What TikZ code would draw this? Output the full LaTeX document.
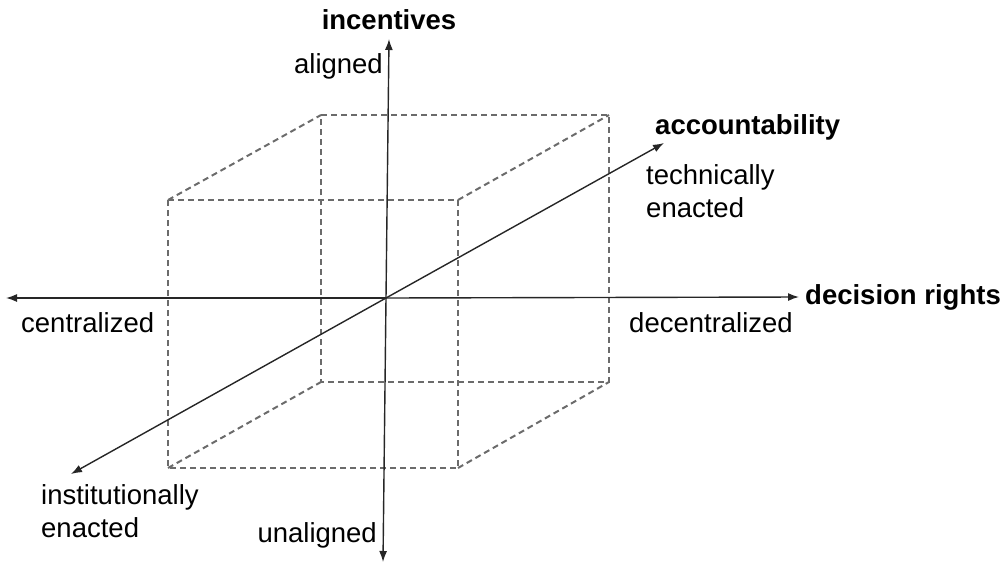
\documentclass[tikz,border=0pt]{standalone}
\usepackage{fontspec}
\setmainfont{Liberation Sans}
\usetikzlibrary{arrows.meta}
\begin{document}
\begin{tikzpicture}[x=1pt,y=-1pt,
  lbl/.style={inner sep=0pt,font=\fontsize{27.5}{33}\selectfont},
  axlbl/.style={lbl,font=\fontsize{27.5}{33}\selectfont\bfseries},
  cubeedge/.style={draw=black!58,line width=2pt,dash pattern=on 6pt off 4pt},
  axis/.style={draw=black!85,line width=1.4pt,-{Latex[length=11pt,width=8pt]}}]
\useasboundingbox (0,0) rectangle (1008,565);
% cube corners
\coordinate (f1) at (168,200);
\coordinate (f2) at (458,200);
\coordinate (f3) at (458,468);
\coordinate (f4) at (168,468);
\coordinate (b1) at (321,115);
\coordinate (b2) at (609,115);
\coordinate (b3) at (609,382);
\coordinate (b4) at (321,382);
\draw[cubeedge] (f1) -- (f2) -- (f3) -- (f4) -- cycle;
\draw[cubeedge] (b1) -- (b2) -- (b3) -- (b4) -- cycle;
\draw[cubeedge] (f1) -- (b1);
\draw[cubeedge] (f2) -- (b2);
\draw[cubeedge] (f3) -- (b3);
\draw[cubeedge] (f4) -- (b4);
% axes
\coordinate (o) at (386,298);
\coordinate (xr) at (799,297);
\coordinate (xl) at (6,298);
\coordinate (yt) at (389,39);
\coordinate (yb) at (383,562);
\coordinate (zt) at (664,143);
\coordinate (zb) at (71,474);
\draw[axis] (o) -- (xr);
\draw[axis] (o) -- (xl);
\draw[axis] (o) -- (yt);
\draw[axis] (o) -- (yb);
\draw[axis] (o) -- (zt);
\draw[axis] (o) -- (zb);
% labels
\node[axlbl] (incentives) at (389,20) {incentives};
\node[lbl,anchor=east] (aligned) at (383,66) {aligned};
\node[lbl,anchor=east] (unaligned) at (377,535) {unaligned};
\node[axlbl,anchor=west] (accountability) at (655,127) {accountability};
\node[lbl,anchor=west,align=left] (technically) at (646,191) {technically\\enacted};
\node[axlbl,anchor=west] (decision) at (805,297) {decision rights};
\node[lbl,anchor=west] (decentralized) at (629,323) {decentralized};
\node[lbl,anchor=west] (centralized) at (21,323) {centralized};
\node[lbl,anchor=west,align=left] (institutionally) at (41,511) {institutionally\\enacted};
\end{tikzpicture}
\end{document}
